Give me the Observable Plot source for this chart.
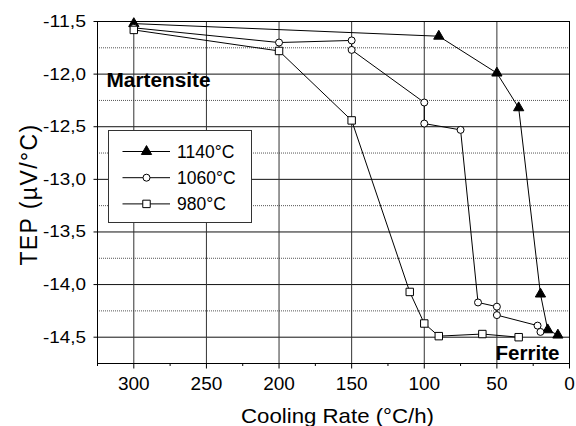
<!DOCTYPE html>
<html><head><meta charset="utf-8">
<script src="https://cdn.jsdelivr.net/npm/d3@7"></script>
<script src="https://cdn.jsdelivr.net/npm/@observablehq/plot@0.6"></script>
<style>body{margin:0;background:#fff} svg{display:block}</style>
</head><body><div id="chart"></div>
<script>
// ---- data ----
const seriesNames = ["1140°C", "1060°C", "980°C"];
const rate1140 = [300, 90, 50, 35, 20, 15, 8];
const tep1140  = [-11.52, -11.64, -11.99, -12.32, -14.09, -14.43, -14.48];
const rate1060 = [300, 200, 150, 150, 100, 100, 75, 63, 50, 50, 22, 20];
const tep1060  = [-11.56, -11.70, -11.68, -11.77, -12.27, -12.47, -12.53, -14.17, -14.21, -14.29, -14.39, -14.45];
const rate980  = [300, 200, 150, 110, 100, 90, 60, 35];
const tep980   = [-11.58, -11.78, -12.44, -14.07, -14.37, -14.49, -14.47, -14.50];

const xTicks = [300, 250, 200, 150, 100, 50, 0];
const xMinorTicks = [325, 275, 225, 175, 125, 75, 25];
const xGrid = [300, 250, 200, 150, 100, 50];
const yTicks = [-11.5, -12.0, -12.5, -13.0, -13.5, -14.0, -14.5];
const yMinor = [-11.75, -12.25, -12.75, -13.25, -13.75, -14.25];
const xLabel = "Cooling Rate (°C/h)";
const yLabel = "TEP (µV/°C)";
const phaseTop = "Martensite";
const phaseBottom = "Ferrite";

const toRows = (name, xs, ys) => xs.map((x, i) => ({series: name, rate: x, tep: ys[i]}));
const d1140 = toRows(seriesNames[0], rate1140, tep1140);
const d1060 = toRows(seriesNames[1], rate1060, tep1060);
const d980  = toRows(seriesNames[2], rate980, tep980);
const all = [...d1140, ...d1060, ...d980];

const fmt = d => d.toFixed(1).replace(".", ",");
const FONT = "'Liberation Sans', Arial, Helvetica, sans-serif";

const symStyle = {
  [seriesNames[0]]: {symbol: "triangle", r: 3.8, fill: "#000"},
  [seriesNames[1]]: {symbol: "circle", r: 3.5, fill: "#fff"},
  [seriesNames[2]]: {symbol: "square", r: 4.2, fill: "#fff"}
};

const svg = Plot.plot({
  width: 576,
  height: 426,
  marginLeft: 97,
  marginRight: 7,
  marginTop: 21,
  marginBottom: 63,
  style: {fontFamily: FONT, background: "#fff", color: "#000"},
  x: {domain: [325, 0]},
  y: {domain: [-14.75, -11.5]},
  marks: [
    Plot.ruleY(yMinor, {stroke: "#555", strokeDasharray: "1,1"}),
    Plot.ruleY(yTicks, {stroke: "#111"}),
    Plot.ruleX(xGrid, {stroke: "#333"}),
    Plot.frame({stroke: "#000"}),
    Plot.axisY({ticks: yTicks, tickSize: 3.5, tickPadding: 8, tickFormat: fmt, fontSize: 17, label: null}),
    Plot.axisX({ticks: xTicks, tickSize: 5.5, tickPadding: 7, fontSize: 19, label: null}),
    Plot.axisX({ticks: xMinorTicks, tickSize: 3, tickFormat: () => "", label: null}),
    Plot.line(all, {x: "rate", y: "tep", z: "series", stroke: "#000", strokeWidth: 1}),
    ...[d1140, d1060, d980].map((d, i) => Plot.dot(d, {x: "rate", y: "tep", symbol: symStyle[seriesNames[i]].symbol, r: symStyle[seriesNames[i]].r, fill: symStyle[seriesNames[i]].fill, stroke: "#000", strokeWidth: 1})),
    Plot.text([phaseTop], {text: d => d, frameAnchor: "top-left", textAnchor: "start", lineAnchor: "top", dx: 9, dy: 51, fontSize: 20, fontWeight: "bold"}),
    Plot.text([phaseBottom], {text: d => d, frameAnchor: "bottom-right", textAnchor: "end", lineAnchor: "top", dx: -10, dy: -18, fontSize: 20, fontWeight: "bold"}),
    Plot.text([xLabel], {text: d => d, frameAnchor: "bottom", textAnchor: "middle", lineAnchor: "top", dx: 4, dy: 45, fontSize: 21}),
    Plot.text([yLabel], {text: d => d, frameAnchor: "left", textAnchor: "middle", rotate: -90, lineAnchor: "middle", dx: -68, dy: 2, fontSize: 23})
  ]
});

// text widths tuned to the reference's wide lettering
const lengths = {[xLabel]: 193, [phaseTop]: 104, [phaseBottom]: 64};
svg.querySelectorAll("text").forEach(t => {
  const s = t.textContent;
  if (lengths[s]) { t.setAttribute("textLength", lengths[s]); t.setAttribute("lengthAdjust", "spacingAndGlyphs"); }
  else if (s === yLabel) { t.setAttribute("letter-spacing", "1.4"); }
  else if (/^-1\d,\d$/.test(s)) { t.setAttribute("textLength", 43); t.setAttribute("lengthAdjust", "spacingAndGlyphs"); }
});

// legend box inside the plot
const g = d3.select(svg).append("g").attr("font-family", FONT).attr("text-anchor", "start");
const lx = 108.5, ly = 130.5;
g.append("rect").attr("x", lx).attr("y", ly).attr("width", 143).attr("height", 92)
  .attr("fill", "#fff").attr("stroke", "#333");
seriesNames.forEach((name, i) => {
  const cy = 151 + i * 26.2;
  g.append("line").attr("x1", 122.5).attr("x2", 170).attr("y1", cy + 0.5).attr("y2", cy + 0.5).attr("stroke", "#000");
  const st = symStyle[name];
  const symType = st.symbol === "triangle" ? d3.symbolTriangle : st.symbol === "circle" ? d3.symbolCircle : d3.symbolSquare;
  g.append("path").attr("d", d3.symbol(symType, Math.PI * st.r * st.r)())
    .attr("transform", `translate(146.5,${cy + 0.5})`).attr("fill", st.fill).attr("stroke", "#000");
  g.append("text").attr("x", 177).attr("y", cy + 7).attr("font-size", 17.5).attr("fill", "#000")
    .attr("text-anchor", "start").text(name);
});

document.getElementById("chart").appendChild(svg);
</script>
</body></html>
